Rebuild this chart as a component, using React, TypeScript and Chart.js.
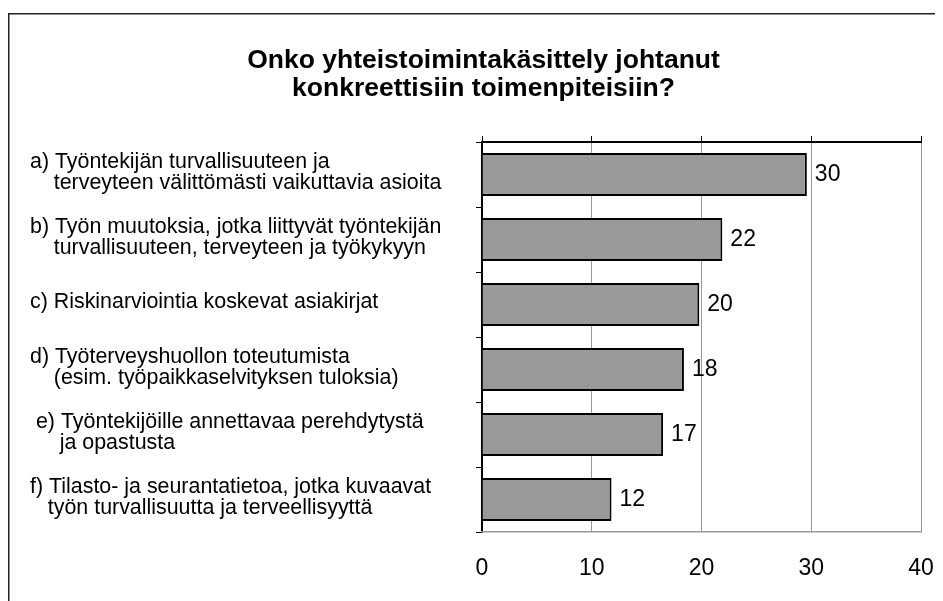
import React, { useEffect, useRef } from "react";
import { Chart, registerables } from "chart.js";

Chart.register(...registerables);

const titleLines = [
  "Onko yhteistoimintakäsittely johtanut",
  "konkreettisiin toimenpiteisiin?",
];

const categories: (string | string[])[] = [
  ["a) Työntekijän turvallisuuteen ja", "    terveyteen välittömästi vaikuttavia asioita"],
  ["b) Työn muutoksia, jotka liittyvät työntekijän", "    turvallisuuteen, terveyteen ja työkykyyn"],
  "c) Riskinarviointia koskevat asiakirjat",
  ["d) Työterveyshuollon toteutumista", "    (esim. työpaikkaselvityksen tuloksia)"],
  [" e) Työntekijöille annettavaa perehdytystä", "     ja opastusta"],
  ["f) Tilasto- ja seurantatietoa, jotka kuvaavat", "   työn turvallisuutta ja terveellisyyttä"],
];

const values = [29.6, 21.9, 19.8, 18.4, 16.5, 11.8];
const valueLabels = ["30", "22", "20", "18", "17", "12"];

const xMin = 0;
const xMax = 40;
const xStep = 10;

const FONT = '"Liberation Sans", Arial, sans-serif';

const framePlugin = {
  id: "frameAndTitle",
  beforeDraw(chart: any) {
    const ctx = chart.ctx;
    ctx.save();
    ctx.strokeStyle = "#222";
    ctx.lineWidth = 1.5;
    ctx.beginPath();
    ctx.moveTo(0.75, chart.height);
    ctx.lineTo(0.75, 5.75);
    ctx.lineTo(chart.width, 5.75);
    ctx.stroke();
    ctx.fillStyle = "#000";
    ctx.font = `bold 26.5px ${FONT}`;
    ctx.textAlign = "center";
    ctx.textBaseline = "middle";
    ctx.fillText(titleLines[0], 475.5, 53);
    ctx.fillText(titleLines[1], 475.5, 81);
    ctx.restore();
  },
};

const valueLabelPlugin = {
  id: "valueLabels",
  afterDatasetsDraw(chart: any) {
    const ctx = chart.ctx;
    const meta = chart.getDatasetMeta(0);
    ctx.save();
    ctx.fillStyle = "#000";
    ctx.font = `23px ${FONT}`;
    ctx.textAlign = "left";
    ctx.textBaseline = "middle";
    meta.data.forEach((bar: any, i: number) => {
      ctx.fillText(valueLabels[i], bar.x + 8, bar.y);
    });
    ctx.restore();
  },
};

export default function App() {
  const ref = useRef<HTMLCanvasElement | null>(null);
  useEffect(() => {
    if (!ref.current) return;
    const chart = new Chart(ref.current, {
      type: "bar",
      data: {
        labels: categories,
        datasets: [
          {
            data: values,
            backgroundColor: "#999999",
            borderColor: "#000000",
            borderWidth: 2,
            barPercentage: 0.66,
            categoryPercentage: 1,
          },
        ],
      },
      options: {
        indexAxis: "y",
        animation: false,
        responsive: false,
        maintainAspectRatio: false,
        layout: { padding: { left: 22, right: 22, top: 124, bottom: 19 } },
        plugins: {
          legend: { display: false },
          tooltip: { enabled: false },
          title: { display: false },
        },
        scales: {
          y: {
            type: "category",
            position: "left",
            afterFit: (axis: any) => {
              axis.width = 452;
              axis.paddingTop = 0;
              axis.paddingBottom = 0;
            },
            grid: {
              offset: true,
              drawOnChartArea: false,
              drawTicks: true,
              tickLength: 6,
              color: "#000",
              lineWidth: 1,
            },
            border: { display: true, color: "#000", width: 2 },
            ticks: {
              crossAlign: "far",
              labelOffset: -2,
              color: "#000",
              font: { family: FONT, size: 21.4, lineHeight: 1.0 },
              autoSkip: false,
            },
          },
          x: {
            type: "linear",
            position: "bottom",
            min: xMin,
            max: xMax,
            afterFit: (axis: any) => {
              axis.height = 50;
              axis.paddingLeft = 0;
              axis.paddingRight = 0;
            },
            grid: {
              drawOnChartArea: true,
              drawTicks: false,
              color: "#999",
              lineWidth: 1,
            },
            border: { display: true, color: "#999", width: 1.5 },
            ticks: {
              stepSize: xStep,
              padding: 23,
              color: "#000",
              font: { family: FONT, size: 23 },
            },
          },
          x2: {
            type: "linear",
            position: "top",
            axis: "x",
            min: xMin,
            max: xMax,
            afterFit: (axis: any) => {
              axis.height = 10;
              axis.paddingLeft = 0;
              axis.paddingRight = 0;
            },
            grid: {
              drawOnChartArea: false,
              drawTicks: true,
              tickLength: 6,
              color: "#000",
              lineWidth: 1,
            },
            border: { display: true, color: "#000", width: 2 },
            ticks: { stepSize: xStep, display: false },
          },
        },
      } as any,
      plugins: [framePlugin, valueLabelPlugin],
    });
    return () => chart.destroy();
  }, []);
  return (
    <div style={{ width: 935, height: 593 }}>
      <canvas ref={ref} width={935} height={593} style={{ display: "block" }} />
    </div>
  );
}
